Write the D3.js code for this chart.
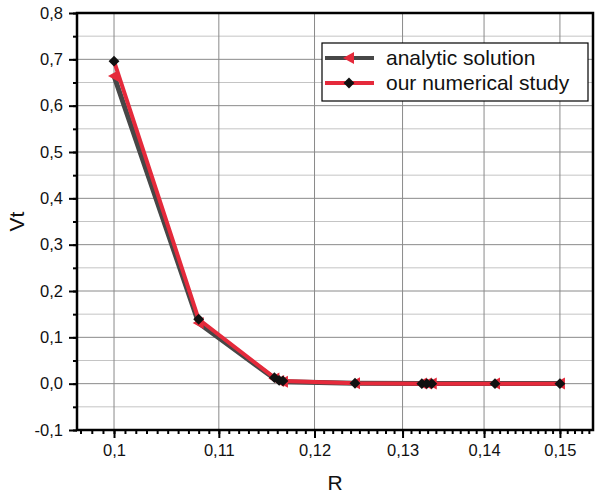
<!DOCTYPE html>
<html>
<head>
<meta charset="utf-8">
<script src="https://cdn.jsdelivr.net/npm/d3@7"></script>
<style>
  body { margin: 0; background: #fff; }
  svg { display: block; font-family: "Liberation Sans", Arial, sans-serif; }
  .tick text { font-size: 16.5px; fill: #111; font-family: "Liberation Sans", Arial, sans-serif; }
</style>
</head>
<body>
<svg></svg>
<script>
// Chart values
var rValues   = [0.1, 0.108, 0.1157, 0.1162, 0.1166, 0.1245, 0.1323, 0.1329, 0.1335, 0.1414, 0.15];
var analytic  = [0.664, 0.131, 0.011, 0.006, 0.004, 0.001, 0.0005, 0.0005, 0.0004, 0.0003, 0.0002];
var numerical = [0.696, 0.139, 0.013, 0.007, 0.006, 0.001, 0.0, 0.0, 0.0, 0.0, 0.0];
var seriesNames = ["analytic solution", "our numerical study"];
var xTicks = [0.1, 0.11, 0.12, 0.13, 0.14, 0.15];
var yTicks = [-0.1, 0.0, 0.1, 0.2, 0.3, 0.4, 0.5, 0.6, 0.7, 0.8];

var w = 600, h = 497;
var plotLeft = 77, plotRight = 593, plotTop = 13, plotBottom = 430;

var svg = d3.select("svg").attr("width", w).attr("height", h);

// x axis is logarithmic in the original
var x = d3.scaleLog().domain([0.09669, 0.15458]).range([plotLeft, plotRight]);
var y = d3.scaleLinear().domain([-0.1, 0.8]).range([plotBottom, plotTop]);

// comma decimals, plain hyphen for negatives
var fmt = function (d) { return d3.format(".1f")(d).replace(".", ",").replace("\u2212", "-"); };
var fmtX = function (d) { return d3.format(".2~f")(d).replace(".", ","); };

// minor ticks: every 0.05 on y, every 0.001 on x
var yMinor = d3.range(-0.1, 0.8001, 0.05).map(function (d) { return +d.toFixed(2); });
var xMinor = d3.range(0.097, 0.1545, 0.001).map(function (d) { return +d.toFixed(3); });

// grid
svg.append("g").selectAll("line")
    .data(yMinor.filter(function (d) { return Math.round(d * 100) % 10 !== 0; }))
    .enter().append("line")
    .attr("x1", plotLeft).attr("x2", plotRight)
    .attr("y1", d => y(d)).attr("y2", d => y(d))
    .attr("stroke", "#c4c4c4").attr("stroke-width", 1);

svg.append("g").selectAll("line")
    .data(yTicks)
    .enter().append("line")
    .attr("x1", plotLeft).attr("x2", plotRight)
    .attr("y1", d => y(d)).attr("y2", d => y(d))
    .attr("stroke", "#8a8a8a").attr("stroke-width", 1);

svg.append("g").selectAll("line")
    .data(xTicks)
    .enter().append("line")
    .attr("x1", d => x(d)).attr("x2", d => x(d))
    .attr("y1", plotTop).attr("y2", plotBottom)
    .attr("stroke", "#8a8a8a").attr("stroke-width", 1);

// axes
var xAxis = d3.axisBottom(x).tickValues(xTicks).tickFormat(fmtX).tickSize(8).tickSizeOuter(0).tickPadding(6);
var gx = svg.append("g").attr("transform", "translate(0," + plotBottom + ")").call(xAxis);
gx.selectAll("line").attr("stroke", "#000").attr("stroke-width", 2);
gx.select(".domain").remove();

svg.append("g").attr("transform", "translate(0," + plotBottom + ")")
    .call(d3.axisBottom(x).tickValues(xMinor).tickFormat("").tickSize(4).tickSizeOuter(0))
    .call(g => g.select(".domain").remove())
    .selectAll("line").attr("stroke", "#000").attr("stroke-width", 2);

var yAxis = d3.axisLeft(y).tickValues(yTicks).tickFormat(fmt).tickSize(8).tickSizeOuter(0).tickPadding(6);
var gy = svg.append("g").attr("transform", "translate(" + plotLeft + ",0)").call(yAxis);
gy.selectAll("line").attr("stroke", "#000").attr("stroke-width", 2);
gy.select(".domain").remove();

svg.append("g").attr("transform", "translate(" + plotLeft + ",0)")
    .call(d3.axisLeft(y).tickValues(yMinor).tickFormat("").tickSize(4).tickSizeOuter(0))
    .call(g => g.select(".domain").remove())
    .selectAll("line").attr("stroke", "#000").attr("stroke-width", 2);

// axis titles
svg.append("text")
    .attr("x", (plotLeft + plotRight) / 2).attr("y", 490)
    .attr("text-anchor", "middle").attr("font-size", 21).attr("fill", "#111")
    .text("R");

svg.append("text")
    .attr("transform", "translate(24," + ((plotTop + plotBottom) / 2) + ") rotate(-90)")
    .attr("text-anchor", "middle").attr("font-size", 21).attr("fill", "#111")
    .text("Vt");

// series
var gray = "#474747", red = "#e52a3b";
var line = d3.line().x(d => x(d[0])).y(d => y(d[1]));
var aData = rValues.map((r, i) => [r, analytic[i]]);
var nData = rValues.map((r, i) => [r, numerical[i]]);

var triangle = "M-6,0L5,-6L5,6Z";
var diamond = d3.symbol().type(d3.symbolDiamond2).size(75)();

svg.append("path").datum(aData)
    .attr("d", line).attr("fill", "none")
    .attr("stroke", gray).attr("stroke-width", 5).attr("stroke-linejoin", "round");

svg.append("path").datum(nData)
    .attr("d", line).attr("fill", "none")
    .attr("stroke", red).attr("stroke-width", 4).attr("stroke-linejoin", "round");

svg.append("g").selectAll("path")
    .data(aData).enter().append("path")
    .attr("d", triangle)
    .attr("transform", d => "translate(" + x(d[0]) + "," + y(d[1]) + ")")
    .attr("fill", red);

svg.append("g").selectAll("path")
    .data(nData).enter().append("path")
    .attr("d", diamond)
    .attr("transform", d => "translate(" + x(d[0]) + "," + y(d[1]) + ")")
    .attr("fill", "#111");

// frame
svg.append("rect")
    .attr("x", plotLeft).attr("y", plotTop)
    .attr("width", plotRight - plotLeft).attr("height", plotBottom - plotTop)
    .attr("fill", "none").attr("stroke", "#000").attr("stroke-width", 2.5);

// legend
var legend = svg.append("g").attr("transform", "translate(322,43)");
legend.append("rect")
    .attr("width", 266).attr("height", 58)
    .attr("fill", "#fff").attr("stroke", "#000").attr("stroke-width", 1.2);

var legendItems = [
    { label: seriesNames[0], lineColor: gray, mark: triangle, markColor: red },
    { label: seriesNames[1], lineColor: red, mark: diamond, markColor: "#111" }
];
var item = legend.selectAll(".item").data(legendItems).enter().append("g")
    .attr("class", "item")
    .attr("transform", (d, i) => "translate(0," + (15 + i * 25) + ")");
item.append("line")
    .attr("x1", 3).attr("x2", 52).attr("y1", 0).attr("y2", 0)
    .attr("stroke", d => d.lineColor).attr("stroke-width", 4);
item.append("path")
    .attr("d", d => d.mark)
    .attr("transform", "translate(27,0)")
    .attr("fill", d => d.markColor);
item.append("text")
    .attr("x", 64).attr("y", 7)
    .attr("font-size", 21).attr("fill", "#111")
    .text(d => d.label);
</script>
</body>
</html>
